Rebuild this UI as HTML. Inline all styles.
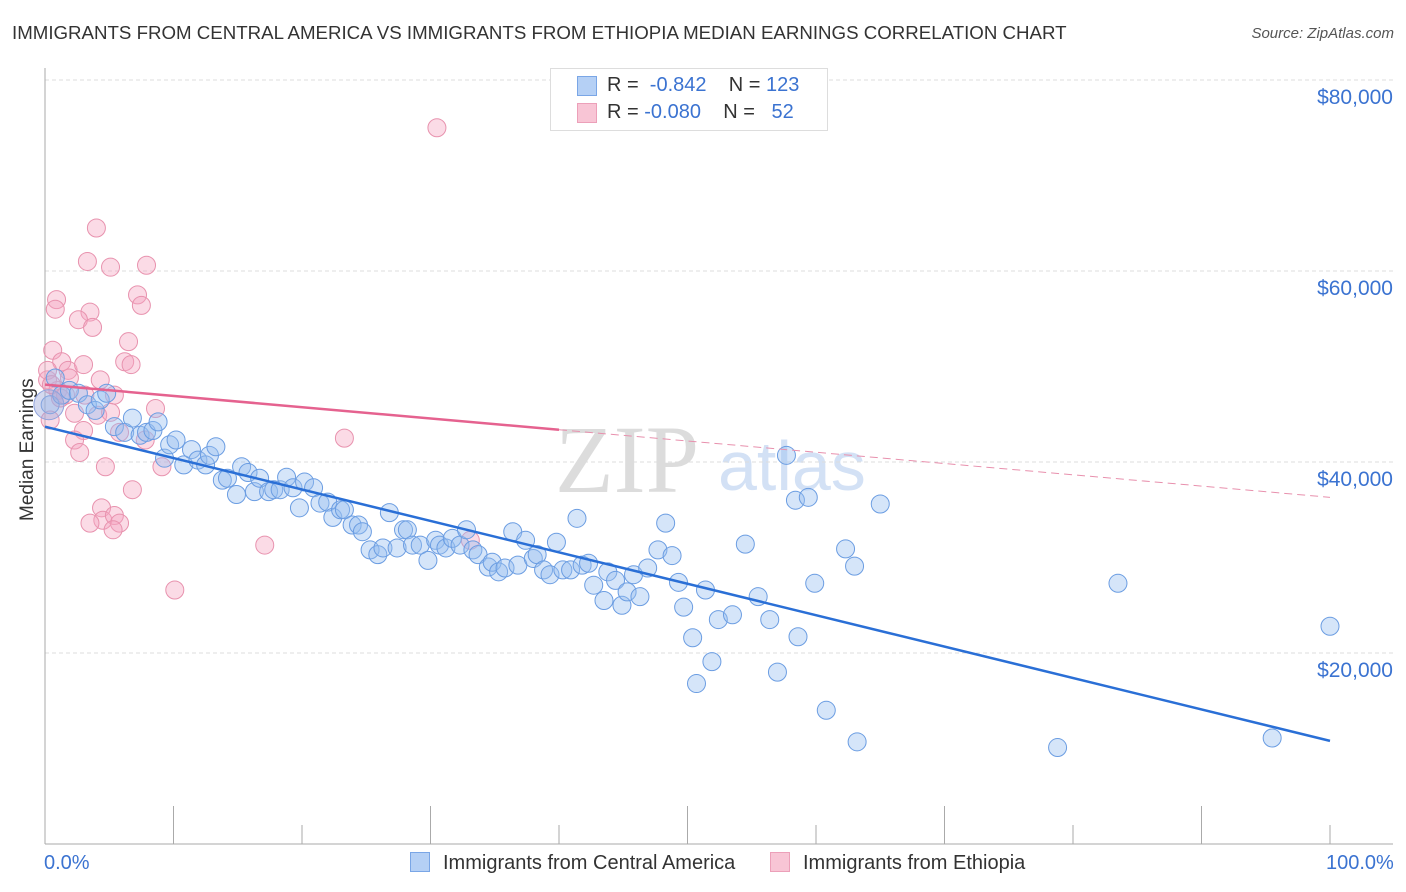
<!DOCTYPE html>
<html><head><meta charset="utf-8"><style>
body{margin:0;background:#fff;font-family:"Liberation Sans",sans-serif;}
#wrap{position:relative;width:1406px;height:892px;overflow:hidden;}
.t{position:absolute;white-space:nowrap;}
</style></head><body>
<div id="wrap">
<div class="t" style="left:12px;top:22px;font-size:18.7px;color:#333;">IMMIGRANTS FROM CENTRAL AMERICA VS IMMIGRANTS FROM ETHIOPIA MEDIAN EARNINGS CORRELATION CHART</div>
<div class="t" style="right:12px;top:25px;font-size:15px;color:#555;font-style:italic;">Source: ZipAtlas.com</div>
<div class="t" style="left:-37px;top:445px;font-size:19px;color:#333;transform:rotate(-90deg);transform-origin:center;width:130px;text-align:center;">Median Earnings</div>
<svg id="svg" width="1406" height="892" style="position:absolute;left:0;top:0">
<text x="555" y="492" font-family="Liberation Serif,serif" font-size="96" fill="#d4d4d4" opacity="0.8">ZIP</text>
<text x="718" y="490" font-family="Liberation Sans,sans-serif" font-size="70" fill="#c9daf3" opacity="0.8">atlas</text>
</svg>
<div class="t" style="left:550px;top:68px;width:276px;height:61px;border:1px solid #ddd;background:#fff;"></div>
<div class="t" style="left:577px;top:76px;width:18px;height:18px;background:#b5d0f5;border:1px solid #7aa6e6;"></div>
<div class="t" style="left:577px;top:103px;width:18px;height:18px;background:#f8c5d5;border:1px solid #eca0b9;"></div>
<div class="t" style="left:607px;top:74px;font-size:20px;color:#333;">R = &nbsp;<span style="color:#3b73d1">-0.842</span>&nbsp;&nbsp;&nbsp; N = <span style="color:#3b73d1">123</span></div>
<div class="t" style="left:607px;top:101px;font-size:20px;color:#333;">R = <span style="color:#3b73d1">-0.080</span>&nbsp;&nbsp;&nbsp; N = &nbsp;&nbsp;<span style="color:#3b73d1">52</span></div>
<div class="t" style="left:44px;top:852px;font-size:20px;color:#3b73d1;">0.0%</div>
<div class="t" style="left:1326px;top:852px;font-size:20px;color:#3b73d1;">100.0%</div>
<div class="t" style="left:410px;top:852px;font-size:20px;color:#333;"><span style="display:inline-block;width:18px;height:18px;background:#b5d0f5;border:1px solid #7aa6e6;vertical-align:-3px;margin-right:13px;"></span>Immigrants from Central America</div>
<div class="t" style="left:770px;top:852px;font-size:20px;color:#333;"><span style="display:inline-block;width:18px;height:18px;background:#f8c5d5;border:1px solid #eca0b9;vertical-align:-3px;margin-right:13px;"></span>Immigrants from Ethiopia</div>
</div>
<script>
const yTicks=[20000,40000,60000,80000];
const yTickLabels=["$20,000","$40,000","$60,000","$80,000"];
const xTicks=[0,10,20,30,40,50,60,70,80,90,100];
const blueX=[0.4,0.8,1.3,1.9,2.6,3.3,3.9,4.3,4.8,5.4,6.2,6.8,7.4,7.9,8.4,8.8,9.3,9.7,10.2,10.8,11.4,11.9,12.5,12.8,13.3,13.8,14.2,14.9,15.3,15.8,16.3,16.7,17.4,17.8,18.3,18.8,19.3,19.8,20.2,20.9,21.4,22.0,22.4,23.0,23.3,23.9,24.4,24.7,25.3,25.9,26.3,26.8,27.4,27.9,28.2,28.6,29.2,29.8,30.4,30.7,31.2,31.7,32.3,32.8,33.3,33.7,34.5,34.8,35.3,35.8,36.4,36.8,37.4,38.0,38.3,38.8,39.3,39.8,40.3,40.9,41.4,41.8,42.3,42.7,43.5,43.8,44.4,44.9,45.3,45.8,46.3,46.9,47.7,48.3,48.8,49.3,49.7,50.4,50.7,51.4,51.9,52.4,53.5,54.5,55.5,56.4,57.0,57.7,58.4,58.6,59.4,59.9,60.8,62.3,63.0,63.2,65.0,78.8,83.5,95.5,100];
const blueY=[46000,48800,47000,47500,47200,46000,45400,46500,47200,43700,43100,44600,42800,43100,43300,44200,40400,41800,42300,39700,41300,40200,39700,40700,41600,38100,38300,36600,39500,38900,36900,38300,36900,37100,37100,38400,37300,35200,37900,37300,35700,35800,34200,35000,35000,33400,33400,32700,30800,30300,31000,34700,31000,32900,32900,31300,31300,29700,31800,31300,31000,32000,31300,32900,30800,30300,29000,29500,28500,28900,32700,29200,31800,29900,30300,28700,28200,31600,28700,28700,34100,29200,29400,27100,25500,28500,27600,25000,26400,28200,25900,28900,30800,33600,30200,27400,24800,21600,16800,26600,19100,23500,24000,31400,25900,23500,18000,40700,36000,21700,36300,27300,14000,30900,29100,10700,35600,10100,27300,11100,22800];
const pinkX=[30.5,4.0,3.3,5.1,7.9,0.9,0.8,3.5,2.6,3.7,7.2,7.5,6.5,6.2,6.7,0.6,1.3,1.8,3.0,0.2,1.9,1.0,1.6,4.3,5.4,2.3,8.6,5.8,3.0,7.8,2.3,2.7,4.7,6.8,4.4,4.5,3.5,5.4,5.8,5.3,17.1,10.1,23.3,9.1,4.1,1.2,0.4,33.1,0.2,0.5,5.1,3.1];
const pinkY=[75000,64500,61000,60400,60600,57000,56000,55700,54900,54100,57500,56400,52600,50500,50200,51700,50500,49600,50200,48600,48800,47500,47000,48600,47000,45100,45600,43100,43300,42300,42300,41000,39500,37100,35200,33900,33600,34400,33600,32900,31300,26600,42500,39500,44900,46700,44400,31800,49600,48100,45200,47000];
const blueTrend=[43700,10800];
const pinkTrend=[48100,36300];
const pinkSolidEnd=40;

const X0=45,X1=1330,Y0=844,PX=191/20000;
const xs=v=>X0+(X1-X0)*v/100;
const ys=v=>Y0-v*PX;
const svg=document.getElementById('svg');
const NS='http://www.w3.org/2000/svg';
function mk(tag,attrs){const e=document.createElementNS(NS,tag);for(const k in attrs)e.setAttribute(k,attrs[k]);svg.appendChild(e);return e;}
yTicks.forEach((t,i)=>{
 const g=mk('line',{x1:X0,x2:1393,y1:ys(t),y2:ys(t),stroke:'#ddd','stroke-dasharray':'4,3'});
 
 
 const l=mk('text',{x:1393,y:ys(t)+24,'text-anchor':'end','font-size':21,fill:'#3b73d1','font-family':'Liberation Sans,sans-serif'});
 l.textContent=yTickLabels[i];
 
 
});
const ax=mk('line',{x1:X0,x2:X0,y1:68,y2:Y0,stroke:'#aaa'});


const bx=mk('line',{x1:X0,x2:1393,y1:Y0,y2:Y0,stroke:'#aaa'});


xTicks.forEach((t,i)=>{
 const long=(i%2==1);
 const tk=mk('line',{x1:xs(t),x2:xs(t),y1:Y0-(long?38:19),y2:Y0,stroke:'#aaa'});
 
 
});
function dots(X,Y,fill,stroke,name){
 X.forEach((x,i)=>{
  const c=mk('circle',{cx:xs(x),cy:ys(Y[i]),r:9,fill:fill,stroke:stroke,'stroke-width':1});
  
  
 });
}
dots(pinkX,pinkY,'rgba(245,165,192,0.4)','#e892ae','point-ethiopia');
dots(blueX,blueY,'rgba(150,190,240,0.4)','#6b9de2','point-central-america');
const big=mk('circle',{cx:xs(0.3),cy:ys(46000),r:15,fill:'rgba(160,170,220,0.45)',stroke:'#8fa3dd'});


const bl=mk('line',{x1:xs(0),y1:ys(blueTrend[0]),x2:xs(100),y2:ys(blueTrend[1]),stroke:'#2a6fd6','stroke-width':2.5});


const pm=pinkTrend[0]+(pinkTrend[1]-pinkTrend[0])*pinkSolidEnd/100;
const pl=mk('line',{x1:xs(0),y1:ys(pinkTrend[0]),x2:xs(pinkSolidEnd),y2:ys(pm),stroke:'#e5628f','stroke-width':2.5});


const pd=mk('line',{x1:xs(pinkSolidEnd),y1:ys(pm),x2:xs(100),y2:ys(pinkTrend[1]),stroke:'#e890ad','stroke-width':1,'stroke-dasharray':'8,5'});


</script>
</body></html>
